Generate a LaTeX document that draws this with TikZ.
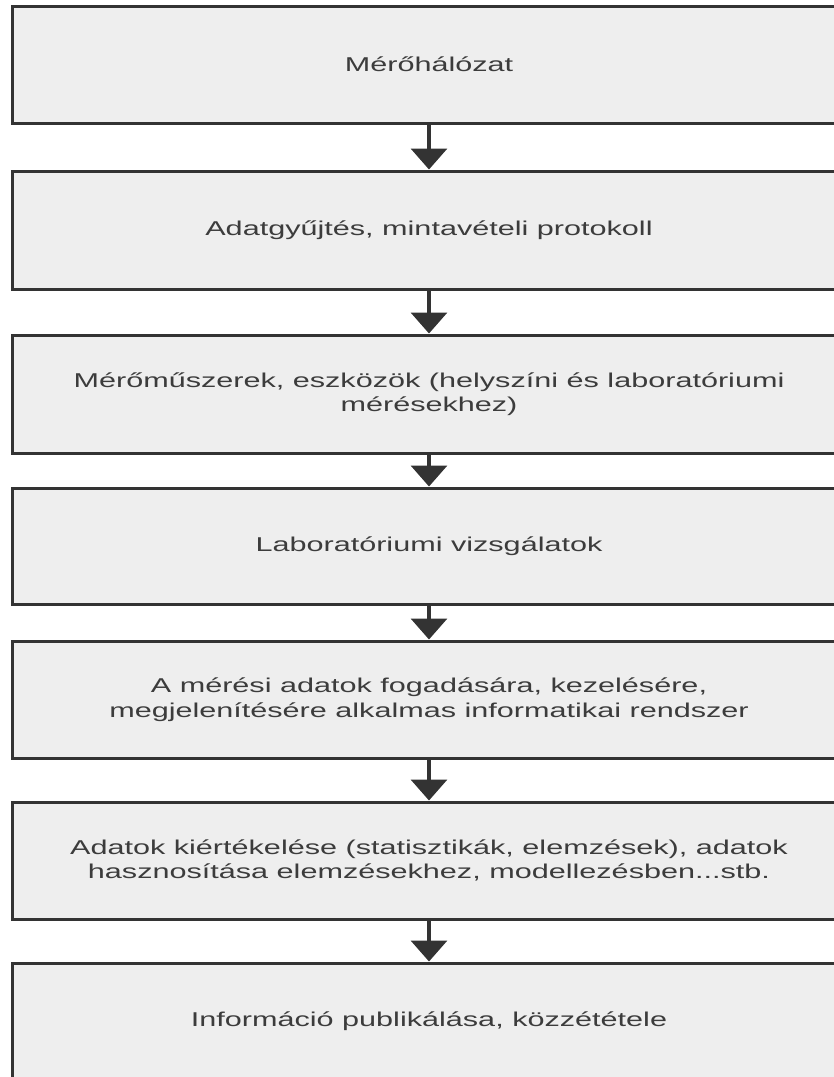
\documentclass[tikz,border=0pt]{standalone}
\usepackage{fontspec}
\setmainfont[FakeStretch=1.53]{Liberation Sans}
\usetikzlibrary{arrows.meta}
\definecolor{boxfill}{HTML}{EEEEEE}
\definecolor{edge}{HTML}{333333}
\definecolor{ink}{HTML}{3C3C3C}
\begin{document}
\begin{tikzpicture}[x=1pt,y=-1pt,
  stagebox/.style={rectangle, draw=edge, fill=boxfill, line width=3pt,
    minimum width=834pt, inner sep=0pt, outer sep=0pt, align=center,
    text=ink, font=\fontsize{20}{24.5}\selectfont},
  flow/.style={draw=edge, line width=3.5pt, shorten >=1.5pt,
    -{Triangle[width=36pt,length=21pt]}}]
\useasboundingbox (0,0) rectangle (834,1077);
\fill[white] (0,0) rectangle (834,1077);
\clip (0,0) rectangle (834,1077);

% process stages, top to bottom
\node[stagebox, minimum height=117pt] (s1) at (429,64.5) {Mérőhálózat};
\node[stagebox, minimum height=118pt] (s2) at (429,230) {Adatgyűjtés, mintavételi protokoll};
\node[stagebox, minimum height=118pt] (s3) at (429,394) {Mérőműszerek, eszközök (helyszíni és laboratóriumi\\mérésekhez)};
\node[stagebox, minimum height=116pt] (s4) at (429,546) {Laboratóriumi vizsgálatok};
\node[stagebox, minimum height=117pt] (s5) at (429,699.5) {A mérési adatok fogadására, kezelésére,\\megjelenítésére alkalmas informatikai rendszer};
\node[stagebox, minimum height=117pt] (s6) at (429,860.5) {Adatok kiértékelése (statisztikák, elemzések), adatok\\hasznosítása elemzésekhez, modellezésben...stb.};
\node[stagebox, minimum height=117pt] (s7) at (429,1021.5) {Információ publikálása, közzététele};

% connectors between consecutive stages
\draw[flow] (s1.south) -- (s2.north);
\draw[flow] (s2.south) -- (s3.north);
\draw[flow] (s3.south) -- (s4.north);
\draw[flow] (s4.south) -- (s5.north);
\draw[flow] (s5.south) -- (s6.north);
\draw[flow] (s6.south) -- (s7.north);
\end{tikzpicture}
\end{document}
